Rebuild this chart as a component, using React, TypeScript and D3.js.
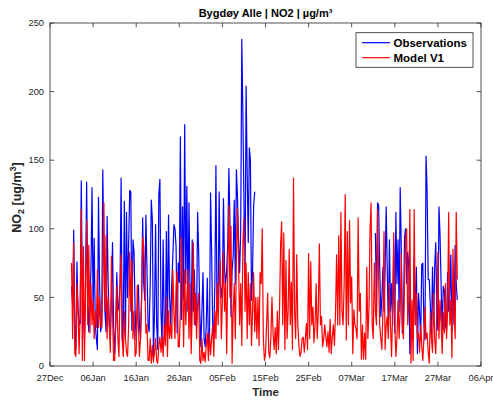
import React from "react";
import * as d3 from "d3";

// ---------- data (6-hourly values, µg/m³) ----------
const xTickDates = [
  "2018-12-27", "2019-01-06", "2019-01-16", "2019-01-26", "2019-02-05", "2019-02-15",
  "2019-02-25", "2019-03-07", "2019-03-17", "2019-03-27", "2019-04-06",
];
const yTicks = [0, 50, 100, 150, 200, 250];
const xDomain = ["2018-12-27", "2019-04-06"];
const yDomain = [0, 250];
const stepHours = 6;

const obsStartA = "2019-01-01T00:00:00Z";
const obsStartB = "2019-03-12T12:00:00Z";
const modelStart = "2019-01-01T00:00:00Z";

const obsJan = [
  58, 45, 99, 25, 12, 76, 40, 30, 31, 135, 60, 35, 20, 60, 134, 50,
  25, 50, 70, 130, 40, 93, 30, 20, 12, 123, 60, 25, 30, 143, 80, 40,
  25, 109, 60, 30, 20, 50, 90, 30, 9, 30, 68, 40, 45, 60, 137, 19,
  30, 120, 19, 112, 50, 90, 128, 127, 26, 92, 83, 40, 19, 40, 59, 30,
  20, 50, 108, 60, 48, 110, 70, 30, 25, 60, 121, 106, 7, 40, 103, 30,
  12, 125, 136, 40, 15, 92, 30, 20, 98, 24, 110, 50, 30, 60, 80, 103,
  100, 87, 24, 75, 61, 167, 34, 116, 48, 176, 60, 131, 40, 119, 50, 28,
  92, 40, 70, 30, 30, 112, 82, 40, 14, 40, 68, 20,
];
const obsFeb = [
  14, 30, 64, 15, 19, 126, 83, 30, 20, 60, 146, 40, 48, 127, 60, 50,
  60, 122, 70, 60, 70, 90, 144, 106, 36, 70, 80, 121, 60, 143, 123, 90,
  68, 100, 238, 183, 120, 61, 204, 141, 90, 159, 150, 48, 70, 117, 127,
];
const obsMar = [
  97, 43, 119, 117, 72, 36, 50, 72, 40, 70, 116, 70, 26, 92,
  40, 60, 30, 90, 24, 112, 60, 92, 40, 130, 87, 24, 30, 94, 100, 60,
  83, 72, 9, 28, 28, 19, 79, 30, 72, 9, 53, 40, 19, 74, 75, 30,
  19, 153, 127, 63, 63, 43, 20, 72, 30, 72, 90, 40, 26, 116, 95, 58,
  26, 58, 55, 30, 26, 68, 40, 50, 81, 26, 60, 30, 88, 60, 48,
];

const modelJan = [
  75, 20, 90, 9, 7, 60, 40, 9, 40, 114, 4, 87, 4, 60, 106, 30,
  88, 24, 60, 30, 48, 20, 40, 28, 70, 28, 50, 30, 28, 60, 119, 40,
  95, 20, 50, 30, 10, 80, 40, 4, 4, 30, 58, 20, 7, 59, 81, 20,
  7, 40, 20, 10, 7, 30, 83, 40, 77, 20, 40, 7, 10, 59, 30, 7,
  20, 50, 94, 87, 63, 24, 30, 4, 4, 20, 2, 15, 3, 10, 20, 4,
  2, 15, 21, 10, 21, 7, 30, 15, 50, 7, 40, 20, 30, 20, 70, 40,
  20, 58, 69, 14, 14, 40, 94, 60, 14, 70, 30, 50, 70, 20, 60, 9,
  40, 90, 30, 53, 20, 45, 53, 4, 2, 20, 4, 10,
];
const modelFeb = [
  3, 15, 24, 4, 24, 8, 20, 30, 7, 40, 20, 60, 30, 60, 77, 20,
  48, 83, 40, 60, 9, 72, 117, 50, 102, 2, 40, 60, 20, 80, 115, 77,
  30, 60, 15, 90, 108, 40, 75, 20, 68, 30, 60, 15, 40, 68, 25, 50,
  20, 50, 15, 68, 60, 100, 20, 4, 9, 30, 53, 10, 6, 21, 50, 24,
  12, 28, 9, 40, 12, 40, 88, 105, 30, 97, 12, 77, 20, 40, 85, 30,
  61, 12, 137, 40, 20, 81, 30, 15, 7, 10, 20, 21, 10, 20, 31, 12,
  82, 20, 76, 30, 43, 17, 30, 60, 20, 40, 89, 30, 36, 14, 20, 30,
];
const modelMar = [
  21, 14, 25, 10, 34, 9, 21, 30, 15, 40, 81, 30, 95, 30, 112, 40,
  30, 60, 125, 19, 98, 30, 106, 46, 65, 9, 41, 30, 27, 20, 108, 40,
  53, 5, 30, 5, 24, 5, 72, 20, 40, 99, 119, 30, 20, 75, 40, 30,
  114, 63, 30, 20, 12, 40, 98, 12, 30, 36, 20, 60, 30, 7, 40, 97,
  30, 7, 20, 48, 20, 40, 82, 30, 20, 60, 93, 100, 30, 46, 114, 2,
  48, 4, 114, 30, 53, 20, 24, 10, 30, 15, 4, 20, 43, 20, 24, 10,
  2, 39, 20, 10, 53, 20, 9, 40, 83, 20, 48, 30, 9, 39, 24, 60,
  20, 40, 112, 30, 48, 6, 85, 40, 20, 112, 63,
];

const seriesNames = ["Observations", "Model V1"];
const seriesColors = ["#0000ff", "#ff0000"];

// ---------- helpers ----------
type Pt = { t: Date; v: number };
function toPoints(start: string, values: number[]): Pt[] {
  const t0 = new Date(start).getTime();
  return values.map((v, i) => ({ t: new Date(t0 + i * stepHours * 3600e3), v }));
}

const W = 493;
const H = 401;
const L = 50;
const R = 481;
const T = 23;
const B = 366;
const AX = "#262626";
const FONT = "'Liberation Sans', Arial, Helvetica, sans-serif";

export default function App() {
  const x = d3
    .scaleUtc()
    .domain(xDomain.map((d) => new Date(d + "T00:00:00Z")))
    .range([L, R]);
  const y = d3.scaleLinear().domain(yDomain).range([B, T]);
  const fmt = d3.utcFormat("%d%b");

  const line = d3
    .line<Pt>()
    .x((d) => x(d.t))
    .y((d) => y(d.v));

  const obsA = toPoints(obsStartA, obsJan.concat(obsFeb));
  const obsB = toPoints(obsStartB, obsMar);
  const model = toPoints(modelStart, modelJan.concat(modelFeb, modelMar));

  const tick = 4.3;
  const xt = xTickDates.map((d) => new Date(d + "T00:00:00Z"));

  return (
    <svg
      width={W}
      height={H}
      style={{ position: "absolute", left: 0, top: 0, background: "#fff" }}
      fontFamily={FONT}
    >
      <rect x={0} y={0} width={W} height={H} fill="#fff" />
      <clipPath id="plotclip">
        <rect x={L} y={T} width={R - L} height={B - T} />
      </clipPath>
      <g clipPath="url(#plotclip)" fill="none" strokeWidth={1.2} strokeLinejoin="round">
        <path d={line(obsA) || ""} stroke={seriesColors[0]} />
        <path d={line(obsB) || ""} stroke={seriesColors[0]} />
        <path d={line(model) || ""} stroke={seriesColors[1]} />
      </g>

      {/* axes box */}
      <rect x={L} y={T} width={R - L} height={B - T} fill="none" stroke={AX} strokeWidth={0.8} />

      {/* x ticks */}
      {xt.map((d, i) => {
        const px = x(d);
        return (
          <g key={"xt" + i}>
            <line x1={px} x2={px} y1={B} y2={B - tick} stroke={AX} strokeWidth={0.8} />
            <line x1={px} x2={px} y1={T} y2={T + tick} stroke={AX} strokeWidth={0.8} />
            <text x={px} y={380.5} textAnchor="middle" fontSize={9.3} fill={AX}>
              {fmt(d)}
            </text>
          </g>
        );
      })}

      {/* y ticks */}
      {yTicks.map((v, i) => {
        const py = y(v);
        return (
          <g key={"yt" + i}>
            <line x1={L} x2={L + tick} y1={py} y2={py} stroke={AX} strokeWidth={0.8} />
            <line x1={R} x2={R - tick} y1={py} y2={py} stroke={AX} strokeWidth={0.8} />
            <text x={44} y={py} dy="0.35em" textAnchor="end" fontSize={9.3} fill={AX}>
              {v}
            </text>
          </g>
        );
      })}

      {/* title */}
      <text x={(L + R) / 2} y={17} textAnchor="middle" fontSize={11} fontWeight="bold" fill="#000">
        Bygdøy Alle | NO2 | µg/m³
      </text>

      {/* x label */}
      <text x={(L + R) / 2} y={396} textAnchor="middle" fontSize={11.5} fontWeight="bold" fill={AX}>
        Time
      </text>

      {/* y label */}
      <text
        transform={`translate(20.5, ${(T + B) / 2 + 3}) rotate(-90)`}
        textAnchor="middle"
        fontSize={12.5}
        fontWeight="bold"
        fill={AX}
      >
        NO
        <tspan fontSize={9} dy={3}>2</tspan>
        <tspan dy={-3}> [ug/m</tspan>
        <tspan fontSize={9} dy={-5}>3</tspan>
        <tspan dy={5}>]</tspan>
      </text>

      {/* legend */}
      <g>
        <rect x={356} y={32.7} width={117} height={34.6} fill="#fff" stroke={AX} strokeWidth={0.8} />
        {seriesNames.map((n, i) => {
          const ly = 42.7 + i * 15;
          return (
            <g key={n}>
              <line x1={362} x2={390} y1={ly} y2={ly} stroke={seriesColors[i]} strokeWidth={1.2} />
              <text x={393.5} y={ly + 4.1} fontSize={11.5} fontWeight="bold" fill="#000">
                {n}
              </text>
            </g>
          );
        })}
      </g>
    </svg>
  );
}
